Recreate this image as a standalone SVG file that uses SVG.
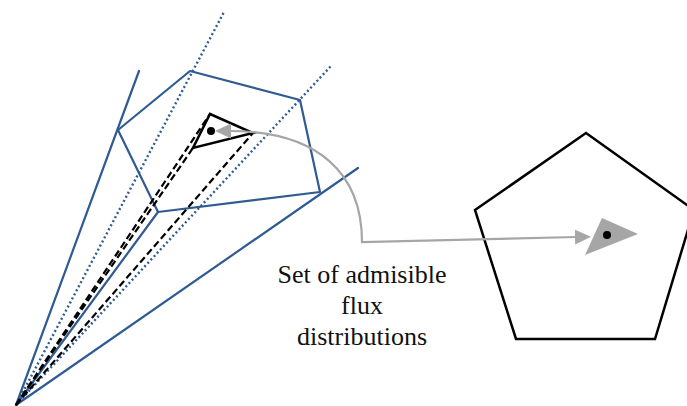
<svg xmlns="http://www.w3.org/2000/svg" width="687" height="406" viewBox="0 0 687 406">
<style>
.blue{stroke:#2F5B92;stroke-width:2.2;fill:none;stroke-linecap:round;stroke-linejoin:round}
.dot{stroke:#2F5B92;stroke-width:2.4;fill:none;stroke-dasharray:2 2.6}
.dash{stroke:#000;stroke-width:2.2;fill:none;stroke-dasharray:7 3.5}
.blk{stroke:#000;stroke-width:2.5;fill:none;stroke-linejoin:miter}
.gray{stroke:#A6A6A6;stroke-width:2.2;fill:none}
.lbl{font-family:"Liberation Serif","Times New Roman",serif;font-size:26px;fill:#111;text-anchor:middle}
</style>
<defs>
<marker id="ah" viewBox="0 0 16 15" markerWidth="16" markerHeight="15" refX="2" refY="7.5" markerUnits="userSpaceOnUse" orient="auto-start-reverse">
<path d="M0,0 L16,7.5 L0,15 z" fill="#A6A6A6"/>
</marker>
</defs>
<g id="cone">
<line class="blue" x1="16" y1="405" x2="139" y2="71"/>
<line class="blue" x1="16" y1="405" x2="158" y2="212"/>
<line class="blue" x1="16" y1="405" x2="358" y2="168"/>
<line class="dot" x1="16" y1="405" x2="224" y2="12"/>
<line class="dot" x1="16" y1="405" x2="331" y2="66"/>
<polygon class="blue" points="118,130 190,71 300,100 320,192 158,212"/>
</g>
<g id="subcone">
<line class="dash" x1="16" y1="405" x2="210" y2="114"/>
<line class="dash" x1="16" y1="405" x2="193" y2="148"/>
<line class="dash" x1="16" y1="405" x2="253" y2="133"/>
<polygon class="blk" points="210,114 253,133 193,148"/>
<circle cx="211" cy="131" r="4" fill="#000"/>
</g>
<g id="pentagon">
<polygon class="blk" points="586,133 694,210 655,339 516,339 475,210"/>
<polygon points="602,218 638,234 585,255" fill="#A6A6A6"/>
<circle cx="607" cy="235" r="4" fill="#000"/>
</g>
<g id="connectors">
<path class="gray" d="M229,131 C320,131 362,175 362,242 L577,237" marker-start="url(#ah)" marker-end="url(#ah)"/>
</g>
<g id="label">
<text class="lbl" x="362" y="283">Set of admisible</text>
<text class="lbl" x="362" y="314">flux</text>
<text class="lbl" x="362" y="345">distributions</text>
</g>
</svg>
